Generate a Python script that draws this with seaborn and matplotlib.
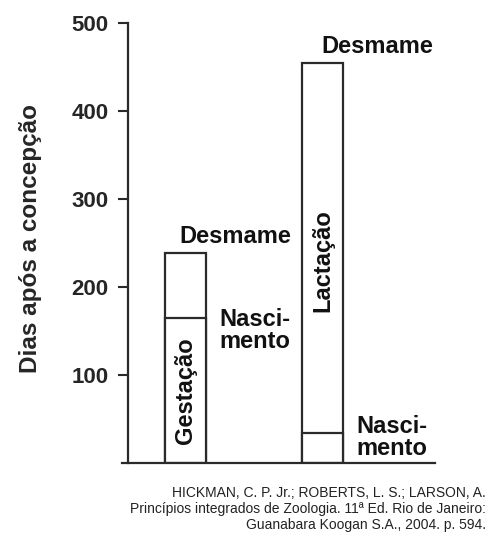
import pandas as pd
import matplotlib.pyplot as plt
import seaborn as sns

# Values (days after conception)
grupos = ['A', 'B']
gestacao = [165, 34]
lactacao = [74, 421]
totais = [g + l for g, l in zip(gestacao, lactacao)]
yticks = [100, 200, 300, 400, 500]

df = pd.DataFrame({'grupo': grupos, 'gestacao': gestacao, 'total': totais})

sns.set_style('white')
fam = ['DejaVu Sans Condensed', 'Liberation Sans', 'DejaVu Sans']
plt.rcParams['font.family'] = fam

fig = plt.figure(figsize=(4.91, 5.38), dpi=100)
ax = fig.add_axes([0.2607, 0.1394, 0.625, 0.8176])

edge = '#2a2a2a'
sns.barplot(data=df, x='grupo', y='total', color='white', edgecolor=edge,
            linewidth=1.6, width=0.3, ax=ax)
sns.barplot(data=df, x='grupo', y='gestacao', color='white', edgecolor=edge,
            linewidth=1.6, width=0.3, ax=ax)

ax.set_ylim(0, 500)
ax.set_xlim(-0.423, 1.82)
ax.set_yticks(yticks)
ax.set_yticklabels([str(t) for t in yticks], fontsize=16, fontweight='bold')
ax.set_xticks([])
ax.set_xlabel('')
ax.set_ylabel('Dias após a concepção', fontsize=17.5, fontweight='bold')
ax.yaxis.set_label_coords(-0.28, 0.51)
ax.tick_params(axis='y', direction='out', length=7, width=1.5, color=edge, pad=7, left=True)
for s in ['top', 'right']:
    ax.spines[s].set_visible(False)
for s in ['left', 'bottom']:
    ax.spines[s].set_color(edge)
    ax.spines[s].set_linewidth(1.6)
ax.spines['bottom'].set_bounds(-0.466, 1.82)

# Text annotations
tb = dict(fontsize=17, fontweight='bold', color='#111111')
ax.text(0, gestacao[0] / 2, 'Gestação', rotation=90, ha='center', va='center', **tb)
ax.text(1, 230, 'Lactação', rotation=90, ha='center', va='center', **tb)
ax.text(-0.044, 250, 'Desmame', ha='left', va='baseline', **tb)
ax.text(0.248, 131, 'Nasci-\nmento', ha='left', va='baseline', linespacing=0.95, **tb)
ax.text(0.993, 466, 'Desmame', ha='left', va='baseline', **tb)
ax.text(1.248, 9, 'Nasci-\nmento', ha='left', va='baseline', linespacing=0.95, **tb)

fonte = ('HICKMAN, C. P. Jr.; ROBERTS, L. S.; LARSON, A.\n'
         'Princípios integrados de Zoologia. 11ª Ed. Rio de Janeiro:\n'
         'Guanabara Koogan S.A., 2004. p. 594.')
fig.text(0.99, 0.097, fonte, ha='right', va='top', fontsize=10, linespacing=1.2, color='#222222')

plt.savefig('out.png', dpi=100)
plt.close()
